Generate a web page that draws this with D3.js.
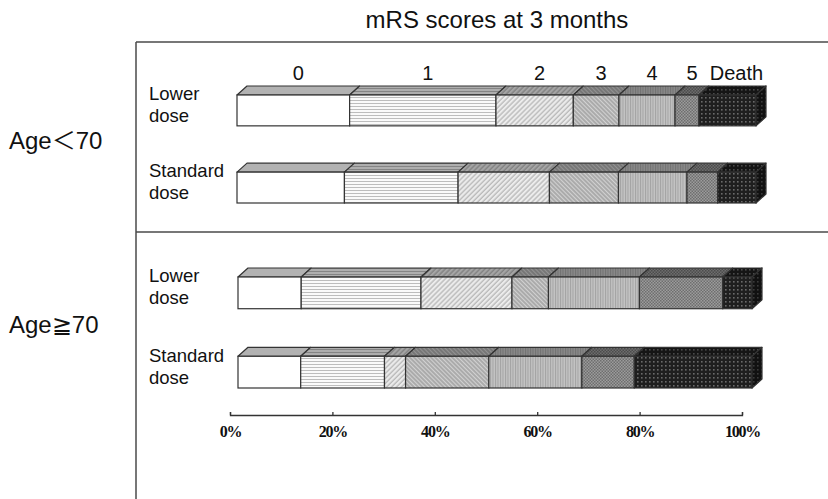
<!DOCTYPE html>
<html><head><meta charset="utf-8">
<script src="https://cdn.jsdelivr.net/npm/d3@7"></script>
<style>
html,body{margin:0;padding:0;background:#fff;}
svg{display:block;}
</style></head>
<body>
<script>
// ---- data ----
const categories = ["0", "1", "2", "3", "4", "5", "Death"];
const groups = ["Age＜70", "Age≧70"];
const rowLabels = [["Lower", "dose"], ["Standard", "dose"]];
const youngLower = [21.7, 28.2, 14.9, 8.8, 10.8, 4.6, 11.0];
const youngStandard = [20.7, 21.9, 17.6, 13.3, 13.2, 5.9, 7.4];
const oldLower = [12.3, 23.3, 17.7, 7.1, 17.7, 16.2, 5.7];
const oldStandard = [12.2, 16.3, 4.1, 16.2, 18.1, 10.2, 22.9];
const axisTicks = [0, 20, 40, 60, 80, 100];
const title = "mRS scores at 3 months";

const data = [
  [youngLower, youngStandard],
  [oldLower, oldStandard]
];

const W = 828, H = 499;
const svg = d3.select("body").append("svg").attr("width", W).attr("height", H);
const defs = svg.append("defs");

// patterns
function pat(id, w, h, bg, draw, transform) {
  const p = defs.append("pattern").attr("id", id).attr("patternUnits", "userSpaceOnUse")
    .attr("width", w).attr("height", h);
  if (transform) p.attr("patternTransform", transform);
  p.append("rect").attr("width", w).attr("height", h).attr("fill", bg);
  draw(p);
}
pat("p0", 4, 4, "#ffffff", p => {});
pat("p1", 4, 3, "#fafafa", p => p.append("line").attr("x1", 0).attr("x2", 4).attr("y1", 1.5).attr("y2", 1.5).attr("stroke", "#bdbdbd").attr("stroke-width", 1));
pat("p2", 3.5, 4, "#ececec", p => p.append("line").attr("x1", 1).attr("x2", 1).attr("y1", 0).attr("y2", 4).attr("stroke", "#a8a8a8").attr("stroke-width", 1), "rotate(45)");
pat("p3", 3, 4, "#d2d2d2", p => p.append("line").attr("x1", 1).attr("x2", 1).attr("y1", 0).attr("y2", 4).attr("stroke", "#858585").attr("stroke-width", 1), "rotate(-45)");
pat("p4", 2.5, 4, "#c4c4c4", p => p.append("line").attr("x1", 0.5).attr("x2", 0.5).attr("y1", 0).attr("y2", 4).attr("stroke", "#a2a2a2").attr("stroke-width", 1));
pat("p5", 3, 3, "#9c9c9c", p => { p.append("rect").attr("width", 1.5).attr("height", 1.5).attr("fill", "#6e6e6e"); p.append("rect").attr("x", 1.5).attr("y", 1.5).attr("width", 1.5).attr("height", 1.5).attr("fill", "#6e6e6e"); });
pat("p6", 4, 4, "#1f1f1f", p => p.append("rect").attr("x", 1).attr("y", 1).attr("width", 1.6).attr("height", 1.6).attr("fill", "#6a6a6a"));

// scales
const xScales = [
  d3.scaleLinear().domain([0, 100]).range([237, 756]),
  d3.scaleLinear().domain([0, 100]).range([238, 752])
];
const yScales = [
  d3.scaleBand().domain([0, 1]).range([95, 203]).paddingInner(0.6).paddingOuter(0),
  d3.scaleBand().domain([0, 1]).range([277, 388]).paddingInner(0.6).paddingOuter(0)
];
const axisScale = d3.scaleLinear().domain([0, 100]).range([230, 742]);
const DX = 10, DY = 9;

// frame lines
const frame = svg.append("g").attr("stroke", "#4a4a4a").attr("stroke-width", 1.5).attr("fill", "none");
frame.append("line").attr("x1", 136).attr("x2", 136).attr("y1", 42).attr("y2", H);
frame.append("line").attr("x1", 136).attr("x2", W).attr("y1", 42).attr("y2", 42);
frame.append("line").attr("x1", 136).attr("x2", W).attr("y1", 232).attr("y2", 232);

// title
svg.append("text").attr("x", 497).attr("y", 28).attr("text-anchor", "middle")
  .attr("font-family", "Arial, 'Liberation Sans', sans-serif").attr("font-size", 24).attr("fill", "#111")
  .text(title);

const sansFont = "Arial, 'Liberation Sans', 'DejaVu Sans', 'Noto Sans CJK JP', sans-serif";

data.forEach((grp, gi) => {
  const xs = xScales[gi], ys = yScales[gi];
  const gCenter = (ys.range()[0] + ys.range()[1]) / 2;
  svg.append("text").attr("x", 9).attr("y", gCenter - 8).attr("dy", "0.35em")
    .attr("font-family", sansFont).attr("font-size", 24).attr("fill", "#111").text(groups[gi]);

  grp.forEach((vals, ri) => {
    const yf = ys(ri), yb = ys(ri) + ys.bandwidth();
    const cy = yf + ys.bandwidth() / 2 - 6;
    const lbl = svg.append("text").attr("font-family", sansFont).attr("font-size", 18.5).attr("fill", "#111");
    lbl.append("tspan").attr("x", 149).attr("y", cy - 11).attr("dy", "0.35em").text(rowLabels[ri][0]);
    lbl.append("tspan").attr("x", 149).attr("y", cy + 11).attr("dy", "0.35em").text(rowLabels[ri][1]);

    let cum = 0;
    const segs = vals.map((v, i) => { const s = { i, a: cum, b: cum + v }; cum += v; return s; });
    const g = svg.append("g");
    segs.forEach(s => {
      const x0 = xs(s.a), x1 = xs(s.b);
      const top = `M${x0},${yf}L${x0 + DX},${yf - DY}L${x1 + DX},${yf - DY}L${x1},${yf}Z`;
      g.append("path").attr("d", top).attr("fill", `url(#p${s.i})`);
      g.append("path").attr("d", top).attr("fill", "#000").attr("fill-opacity", 0.3)
        .attr("stroke", "#333").attr("stroke-width", 1.2).attr("stroke-linejoin", "round");
      g.append("rect").attr("x", x0).attr("y", yf).attr("width", x1 - x0).attr("height", yb - yf)
        .attr("fill", `url(#p${s.i})`).attr("stroke", "#333").attr("stroke-width", 1.2);
      if (s.i === segs.length - 1) {
        const side = `M${x1},${yf}L${x1 + DX},${yf - DY}L${x1 + DX},${yb - DY}L${x1},${yb}Z`;
        g.append("path").attr("d", side).attr("fill", `url(#p${s.i})`);
        g.append("path").attr("d", side).attr("fill", "#000").attr("fill-opacity", 0.45)
          .attr("stroke", "#333").attr("stroke-width", 1.2).attr("stroke-linejoin", "round");
      }
    });

    if (gi === 0 && ri === 0) {
      svg.append("g").selectAll("text").data(segs).join("text")
        .attr("x", s => (xs(s.a) + xs(s.b)) / 2 + 5 + (s.i === 6 ? 4 : 0))
        .attr("y", 73).attr("dy", "0.35em").attr("text-anchor", "middle")
        .attr("font-family", sansFont).attr("font-size", 20).attr("fill", "#111")
        .text(s => categories[s.i]);
    }
  });
});

// axis
const axis = d3.axisBottom(axisScale).tickValues(axisTicks).tickFormat(d => d + "%")
  .tickSizeInner(-3).tickSizeOuter(-3).tickPadding(11);
const ag = svg.append("g").attr("transform", "translate(0,415)").call(axis);
ag.select(".domain").attr("stroke", "#333").attr("stroke-width", 1.3);
ag.selectAll(".tick line").attr("stroke", "#333").attr("stroke-width", 1.3);
ag.selectAll(".tick text").attr("font-family", "'Liberation Serif', 'DejaVu Serif', serif")
  .attr("font-weight", "bold").attr("font-size", 16).attr("letter-spacing", "-1.2px").attr("fill", "#111");
</script>
</body></html>
